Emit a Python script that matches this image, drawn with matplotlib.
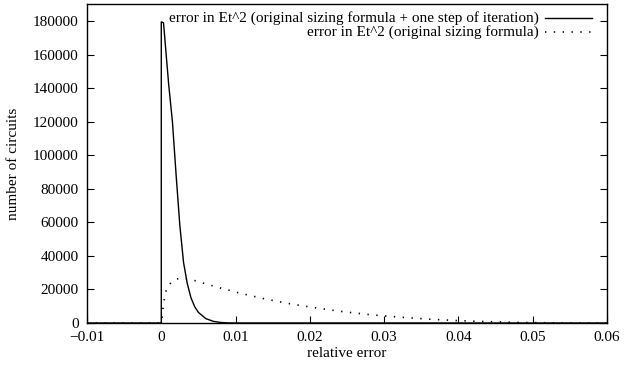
import numpy as np
import matplotlib
matplotlib.use('Agg')
import matplotlib.pyplot as plt
from matplotlib.lines import Line2D

# relative error -> number of circuits
x_iter = [-0.01, 0.0, 0.0, 0.0003, 0.0006, 0.001, 0.0015, 0.002, 0.0025,
          0.003, 0.0035, 0.004, 0.0045, 0.005, 0.006, 0.007, 0.008, 0.009,
          0.01, 0.06]
y_iter = [0, 0, 179500, 179000, 163000, 142000, 120000, 88000, 58000,
          36000, 23500, 15000, 9700, 6300, 2600, 1000, 300, 50,
          0, 0]

x_orig = [-0.01, 0.0, 0.0001, 0.0003, 0.0006, 0.001, 0.0015, 0.002, 0.0027,
          0.0035, 0.0045, 0.006, 0.008, 0.0106, 0.014, 0.0173, 0.0205,
          0.024, 0.028, 0.032, 0.036, 0.040, 0.044, 0.048, 0.052, 0.056, 0.06]
y_orig = [0, 0, 2800, 11700, 18600, 22500, 25000, 26200, 26600,
          26300, 25300, 23300, 20800, 17800, 14300, 11500, 9200,
          7000, 5000, 3500, 2300, 1400, 800, 350, 100, 0, 0]

labels = ['error in Et^2 (original sizing formula + one step of iteration)',
          'error in Et^2 (original sizing formula)']

plt.rcParams['font.family'] = ['Liberation Serif', 'DejaVu Serif']
plt.rcParams['font.size'] = 11

fig = plt.figure(figsize=(6.34, 3.71), dpi=100)
ax = fig.add_axes([87/634, 1 - 323/371, 520/634, (323 - 4.3)/371])

ax.plot(x_iter, y_iter, color='black', linewidth=1.0)
ax.plot(x_orig, y_orig, color='black', linewidth=1.2, linestyle=(0, (0.8, 4.5)))

ax.set_xlim(-0.01, 0.06)
ax.set_ylim(0, 190000)
ax.set_xticks(np.arange(-0.01, 0.0601, 0.01))
ax.set_xticklabels(['\u22120.01', '0', '0.01', '0.02', '0.03', '0.04', '0.05', '0.06'])
ax.set_yticks(np.arange(0, 180001, 20000))
ax.tick_params(direction='in', length=5, width=0.8, right=True, top=False,
               labelsize=11, pad=6)
for s in ax.spines.values():
    s.set_linewidth(1.0)

ax.set_xlabel('relative error', fontsize=11)
ax.set_ylabel('number of circuits', fontsize=11)
ax.xaxis.set_label_coords(0.5, -0.075)
ax.yaxis.set_label_coords(-0.128, 0.5)

# gnuplot-style key, right aligned text with sample to its right
key_y = [1 - (18 - 4.3)/318.7, 1 - (32 - 4.3)/318.7]
styles = [dict(linewidth=1.0), dict(linewidth=1.2, linestyle=(0, (0.8, 4.5)))]
for lab, yk, st in zip(labels, key_y, styles):
    ax.text((539 - 87)/520, yk, lab, transform=ax.transAxes, ha='right', va='center',
            fontsize=11)
    ax.add_line(Line2D([(545 - 87)/520, (592 - 87)/520], [yk, yk],
                       transform=ax.transAxes, color='black', **st))

fig.savefig('out.png', dpi=100)
